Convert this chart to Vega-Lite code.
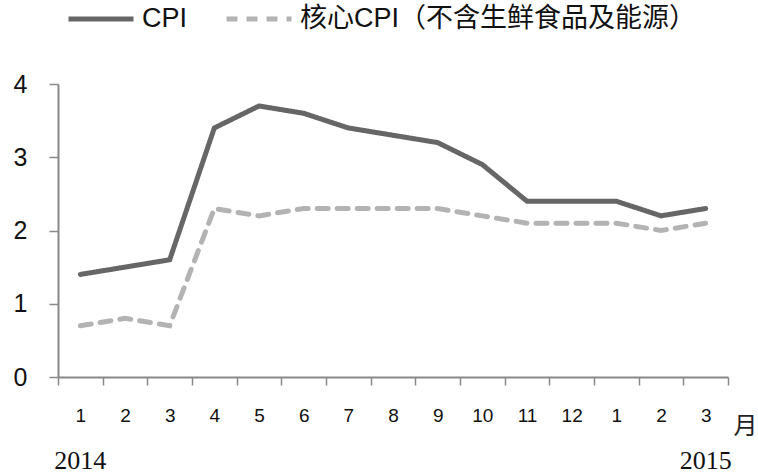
{
  "$schema": "https://vega.github.io/schema/vega-lite/v6.json",
  "autosize": "none",
  "width": 670,
  "height": 293,
  "padding": {"left": 58, "top": 84, "right": 30, "bottom": 97},
  "background": "white",
  "config": {
    "view": {"stroke": null},
    "font": "Liberation Sans",
    "axis": {"labelFont": "Liberation Sans", "titleFont": "Noto Sans CJK SC"},
    "legend": {"labelFont": "Liberation Sans, Noto Sans CJK SC"}
  },
  "datasets": {
    "series": [
      {"month": "2014-01", "series": "CPI", "value": 1.4},
      {"month": "2014-02", "series": "CPI", "value": 1.5},
      {"month": "2014-03", "series": "CPI", "value": 1.6},
      {"month": "2014-04", "series": "CPI", "value": 3.4},
      {"month": "2014-05", "series": "CPI", "value": 3.7},
      {"month": "2014-06", "series": "CPI", "value": 3.6},
      {"month": "2014-07", "series": "CPI", "value": 3.4},
      {"month": "2014-08", "series": "CPI", "value": 3.3},
      {"month": "2014-09", "series": "CPI", "value": 3.2},
      {"month": "2014-10", "series": "CPI", "value": 2.9},
      {"month": "2014-11", "series": "CPI", "value": 2.4},
      {"month": "2014-12", "series": "CPI", "value": 2.4},
      {"month": "2015-01", "series": "CPI", "value": 2.4},
      {"month": "2015-02", "series": "CPI", "value": 2.2},
      {"month": "2015-03", "series": "CPI", "value": 2.3},
      {"month": "2014-01", "series": "核心CPI（不含生鲜食品及能源）", "value": 0.7},
      {"month": "2014-02", "series": "核心CPI（不含生鲜食品及能源）", "value": 0.8},
      {"month": "2014-03", "series": "核心CPI（不含生鲜食品及能源）", "value": 0.7},
      {"month": "2014-04", "series": "核心CPI（不含生鲜食品及能源）", "value": 2.3},
      {"month": "2014-05", "series": "核心CPI（不含生鲜食品及能源）", "value": 2.2},
      {"month": "2014-06", "series": "核心CPI（不含生鲜食品及能源）", "value": 2.3},
      {"month": "2014-07", "series": "核心CPI（不含生鲜食品及能源）", "value": 2.3},
      {"month": "2014-08", "series": "核心CPI（不含生鲜食品及能源）", "value": 2.3},
      {"month": "2014-09", "series": "核心CPI（不含生鲜食品及能源）", "value": 2.3},
      {"month": "2014-10", "series": "核心CPI（不含生鲜食品及能源）", "value": 2.2},
      {"month": "2014-11", "series": "核心CPI（不含生鲜食品及能源）", "value": 2.1},
      {"month": "2014-12", "series": "核心CPI（不含生鲜食品及能源）", "value": 2.1},
      {"month": "2015-01", "series": "核心CPI（不含生鲜食品及能源）", "value": 2.1},
      {"month": "2015-02", "series": "核心CPI（不含生鲜食品及能源）", "value": 2.0},
      {"month": "2015-03", "series": "核心CPI（不含生鲜食品及能源）", "value": 2.1}
    ],
    "years": [
      {"month": "2014-01", "year": "2014", "value": -1.14},
      {"month": "2015-03", "year": "2015", "value": -1.14}
    ]
  },
  "encoding": {
    "x": {
      "field": "month", "type": "ordinal",
      "scale": {"paddingInner": 0, "paddingOuter": 0},
      "axis": {
        "title": "月",
        "titleFont": "Noto Sans CJK SC",
        "titleFontWeight": "normal",
        "titleFontSize": 24,
        "titleColor": "#222222",
        "titleX": 687,
        "titleY": 49,
        "titleAlign": "center",
        "titleBaseline": "middle",
        "labelExpr": "toNumber(split(datum.value, '-')[1])",
        "labelAngle": 0,
        "labelFont": "Liberation Sans",
        "labelFontSize": 19,
        "labelColor": "#111111",
        "labelPadding": 21,
        "tickBand": "extent",
        "tickSize": 8,
        "tickColor": "#888888",
        "tickWidth": 1.5,
        "domainColor": "#888888",
        "domainWidth": 2
      }
    },
    "y": {
      "field": "value", "type": "quantitative",
      "scale": {"domain": [0, 4], "nice": false, "zero": true},
      "axis": {
        "title": null,
        "values": [0, 1, 2, 3, 4],
        "format": "d",
        "grid": false,
        "labelFont": "Liberation Sans",
        "labelFontSize": 25,
        "labelColor": "#111111",
        "labelPadding": 22,
        "tickSize": 9,
        "tickColor": "#888888",
        "tickWidth": 1.5,
        "domainColor": "#888888",
        "domainWidth": 2
      }
    }
  },
  "layer": [
    {
      "data": {"name": "series"},
      "mark": {"type": "line", "strokeWidth": 5, "strokeCap": "round", "strokeJoin": "miter", "clip": false},
      "encoding": {
        "color": {
          "field": "series", "type": "nominal",
          "scale": {"domain": ["CPI", "核心CPI（不含生鲜食品及能源）"], "range": ["#666666", "#b3b3b3"]},
          "legend": {
            "title": null,
            "orient": "none",
            "direction": "horizontal",
            "legendX": 8,
            "legendY": -100,
            "symbolType": "stroke",
            "symbolSize": 4225,
            "symbolStrokeWidth": 5,
            "labelFont": "Liberation Sans, Noto Sans CJK SC",
            "labelFontSize": 27,
            "labelColor": "#111111",
            "labelLimit": 0,
            "labelOffset": 6,
            "columnPadding": 28
          }
        },
        "strokeDash": {
          "field": "series", "type": "nominal",
          "scale": {"domain": ["CPI", "核心CPI（不含生鲜食品及能源）"], "range": [[1, 0], [11, 9]]},
          "legend": null
        }
      }
    },
    {
      "data": {"name": "years"},
      "mark": {"type": "text", "font": "Liberation Serif", "fontSize": 26, "color": "#111111", "baseline": "middle", "clip": false},
      "encoding": {
        "text": {"field": "year"}
      }
    }
  ]
}
